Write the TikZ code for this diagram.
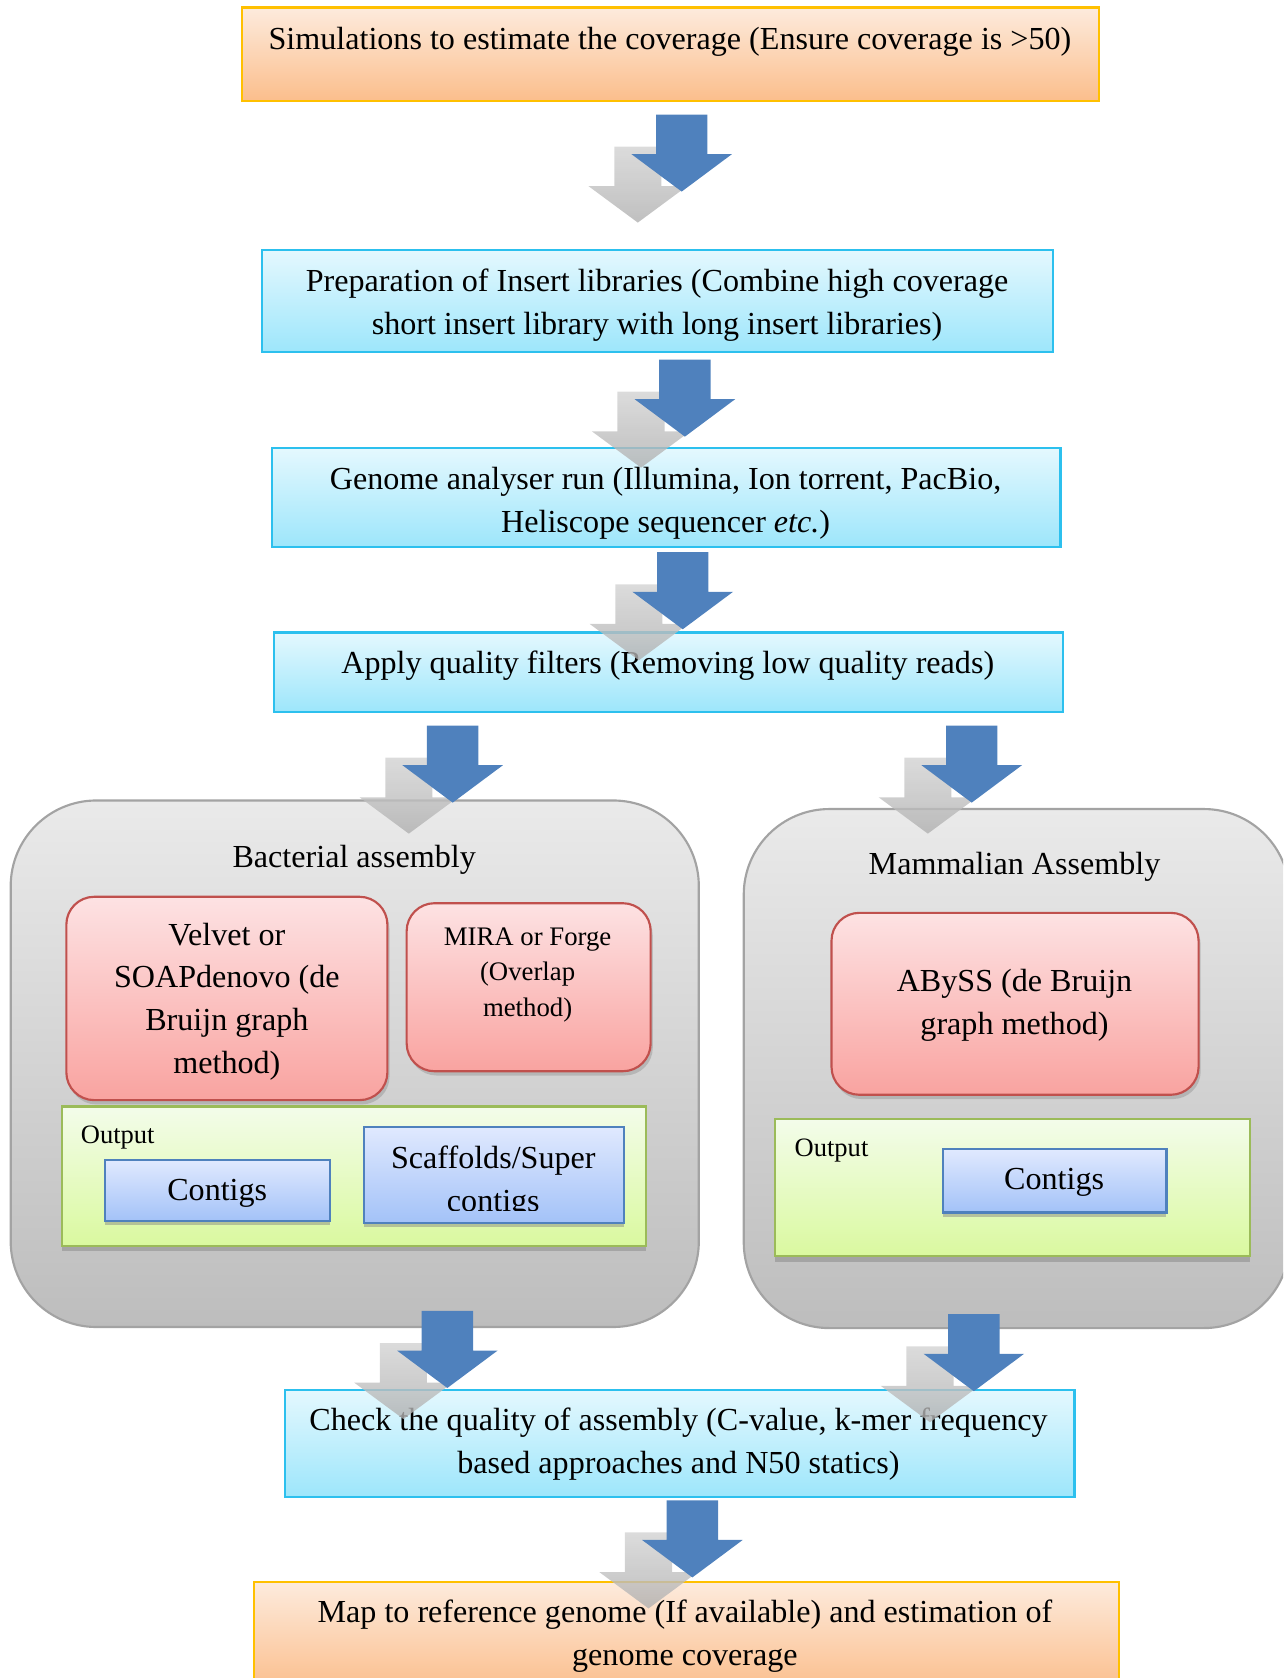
\documentclass[tikz,border=0pt]{standalone}
\usepackage{fontspec}
\setmainfont{Liberation Serif}
\usetikzlibrary{shadows}
\definecolor{orTop}{HTML}{FDEBDD}
\definecolor{orBot}{HTML}{FBBE8C}
\definecolor{orLine}{HTML}{FFC000}
\definecolor{cyTop}{HTML}{E4F8FE}
\definecolor{cyBot}{HTML}{9DE6FB}
\definecolor{cyLine}{HTML}{2CC0EE}
\definecolor{pkTop}{HTML}{FDE2E3}
\definecolor{pkBot}{HTML}{F9A3A0}
\definecolor{pkLine}{HTML}{C0504D}
\definecolor{grTop}{HTML}{F3FCEA}
\definecolor{grBot}{HTML}{DAF99F}
\definecolor{grLine}{HTML}{9BBB59}
\definecolor{blTop}{HTML}{E0E9FE}
\definecolor{blBot}{HTML}{A3C2F8}
\definecolor{blLine}{HTML}{4F81BD}
\definecolor{cnTop}{HTML}{EAEAEA}
\definecolor{cnBot}{HTML}{BDBDBD}
\definecolor{cnLine}{HTML}{A3A3A3}
\definecolor{arrowblue}{HTML}{4F81BD}
\tikzset{
  stepbox/.style={draw, line width=1pt, inner sep=0pt},
  orangebox/.style={stepbox, draw=orLine, top color=orTop, bottom color=orBot},
  cyanbox/.style={stepbox, draw=cyLine, top color=cyTop, bottom color=cyBot},
  container/.style={draw=cnLine, line width=1pt, top color=cnTop, bottom color=cnBot, rounded corners=40pt, inner sep=0pt},
  toolbox/.style={draw=pkLine, line width=1pt, top color=pkTop, bottom color=pkBot, rounded corners=13pt, inner sep=0pt,
     drop shadow={shadow xshift=1pt, shadow yshift=-2pt, opacity=0.35}},
  outbox/.style={draw=grLine, line width=1pt, top color=grTop, bottom color=grBot, inner sep=0pt,
     drop shadow={shadow xshift=0pt, shadow yshift=-2.5pt, opacity=0.45}},
  resbox/.style={draw=blLine, line width=1pt, top color=blTop, bottom color=blBot, inner sep=0pt,
     drop shadow={shadow xshift=0pt, shadow yshift=-2pt, opacity=0.45}},
  maintext/.style={align=center, font=\fontsize{15}{20}\selectfont, inner sep=0pt},
  smalltext/.style={align=center, font=\fontsize{12.5}{16.5}\selectfont, inner sep=0pt},
  labeltext/.style={font=\fontsize{12.4}{14}\selectfont, inner sep=0pt},
  bluearrow/.pic={\fill[arrowblue] (-24,0) -- (24,0) -- (24,37) -- (47,37) -- (0,72) -- (-47,37) -- (-24,37) -- cycle;},
  grayarrow/.pic={\shade[top color=gray!35, bottom color=gray!62, fill opacity=0.8] (-22,0) -- (22,0) -- (22,37) -- (46,37) -- (0,71) -- (-46,37) -- (-22,37) -- cycle;},
}
\begin{document}
\begin{tikzpicture}[x=0.5pt,y=-0.5pt]
\useasboundingbox (0,0) rectangle (1199,1568);
\clip (0,0) rectangle (1199,1568);
% main boxes
\node[orangebox, minimum width=400.5pt, minimum height=43.5pt] (b1) at (626.5,50.5) {};
\node[maintext] (t1) at (626,39) {Simulations to estimate the coverage (Ensure coverage is >50)};
\node[cyanbox, minimum width=369.5pt, minimum height=47.5pt] (b2) at (614.5,281.5) {};
\node[maintext] (t2) at (614,285) {Preparation of Insert libraries (Combine high coverage\\short insert library with long insert libraries)};
\node[cyanbox, minimum width=368.5pt, minimum height=46pt] (b3) at (622.5,465) {};
\node[maintext] (t3) at (622,470) {Genome analyser run (Illumina, Ion torrent, PacBio,\\Heliscope sequencer \textit{etc.})};
\node[cyanbox, minimum width=368.5pt, minimum height=37pt] (b4) at (624.5,628) {};
\node[maintext] (t4) at (624,622) {Apply quality filters (Removing low quality reads)};
% bacterial container
\node[container, minimum width=321.5pt, minimum height=246pt] (cl) at (331.5,994) {};
\node[maintext] (cltitle) at (331,803) {Bacterial assembly};
\node[toolbox, minimum width=150pt, minimum height=95pt] (velvet) at (212,933) {};
\node[maintext] (velvett) at (212,936) {Velvet or\\SOAPdenovo (de\\Bruijn graph\\method)};
\node[toolbox, minimum width=114pt, minimum height=78.5pt] (mira) at (494,922.5) {};
\node[smalltext] (mirat) at (493,911) {MIRA or Forge\\(Overlap\\method)};
\node[outbox, minimum width=273pt, minimum height=65pt] (outl) at (331,1099) {};
\node[labeltext] (outlt) at (110,1063) {Output};
\node[resbox, minimum width=105pt, minimum height=28.5pt] (contl) at (203,1112.5) {};
\node[maintext] (contlt) at (203,1115) {Contigs};
\node[resbox, minimum width=121.5pt, minimum height=45pt] (scaf) at (461.5,1098) {};
\begin{scope}
\clip (342,1055) rectangle (581,1131);
\node[maintext] (scaft) at (461,1105) {Scaffolds/Super\\contigs};
\end{scope}
% mammalian container
\node[container, minimum width=255pt, minimum height=242.5pt] (cr) at (950,998.5) {};
\node[maintext] (crtitle) at (948,810) {Mammalian Assembly};
\node[toolbox, minimum width=171.5pt, minimum height=85pt] (abyss) at (948.5,938) {};
\node[maintext] (abysst) at (948,939.5) {ABySS (de Bruijn\\graph method)};
\node[outbox, minimum width=222pt, minimum height=64pt] (outr) at (946,1110) {};
\node[labeltext] (outrt) at (777,1075) {Output};
\node[resbox, minimum width=104.5pt, minimum height=29.5pt] (contr) at (985.5,1103.5) {};
\node[maintext] (contrt) at (985,1105) {Contigs};
% lower boxes
\node[cyanbox, minimum width=369pt, minimum height=50pt] (b5) at (635,1349) {};
\node[maintext] (t5) at (634,1349.5) {Check the quality of assembly (C-value, k-mer frequency\\based approaches and N50 statics)};
\node[orangebox, minimum width=404.5pt, minimum height=51pt] (b6) at (641.5,1529) {};
\node[maintext] (t6) at (640,1529) {Map to reference genome (If available) and estimation of\\genome coverage};
% block arrows (shadow then arrow)
\pic at (596,137) {grayarrow};   \pic at (637,107) {bluearrow};
\pic at (599,366) {grayarrow};   \pic at (640,336) {bluearrow};
\pic at (597,546) {grayarrow};   \pic at (638,516) {bluearrow};
\pic at (382,708) {grayarrow};   \pic at (423,678) {bluearrow};
\pic at (867,708) {grayarrow};   \pic at (908,678) {bluearrow};
\pic at (377,1255) {grayarrow};  \pic at (418,1225) {bluearrow};
\pic at (869,1258) {grayarrow};  \pic at (910,1228) {bluearrow};
\pic at (606,1432) {grayarrow};  \pic at (647,1402) {bluearrow};
\end{tikzpicture}
\end{document}
